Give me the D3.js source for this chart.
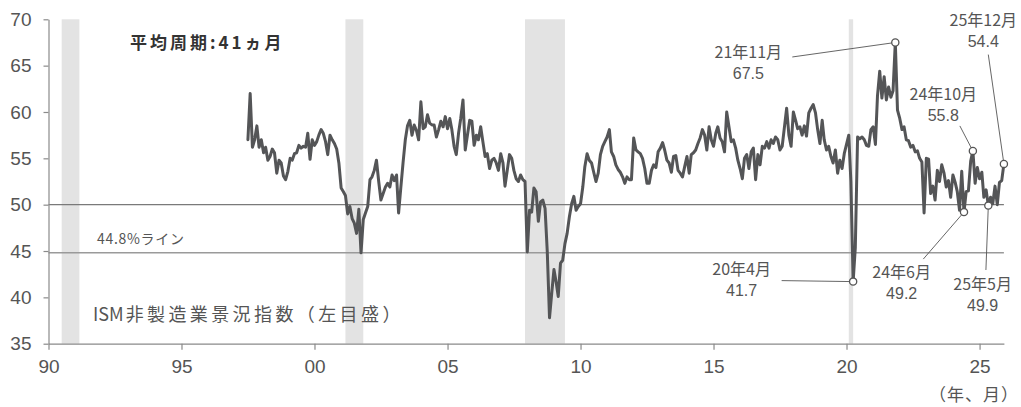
<!DOCTYPE html>
<html lang="ja">
<head>
<meta charset="utf-8">
<script src="https://cdn.jsdelivr.net/npm/d3@7"></script>
<style>
  html, body { margin: 0; padding: 0; background: #fff; }
  svg { display: block; }
</style>
</head>
<body>
<svg id="chart" width="1021" height="407"></svg>
<script>
// ISM non-manufacturing index, monthly, starting July 1997
const firstMonth = "1997-07";
const ismValues = [
  // 1997 (Jul-Dec)
  57.0, 62.0, 56.2, 57.0, 58.5, 56.2,
  // 1998
  57.0, 55.6, 56.2, 54.8, 55.2, 56.0, 55.6, 53.4, 54.8, 54.5, 53.1, 52.7,
  // 1999
  53.6, 55.0, 54.8, 55.5, 55.6, 56.4, 56.1, 56.3, 56.2, 57.7, 54.9, 57.0,
  // 2000
  56.4, 56.8, 57.5, 58.1, 57.7, 56.8, 55.4, 57.5, 57.0, 56.6, 56.0, 54.5,
  // 2001
  51.8, 51.4, 51.0, 49.0, 49.8, 48.5, 48.0, 46.9, 49.5, 44.8, 48.4, 49.1,
  // 2002
  49.8, 52.7, 53.0, 53.7, 54.8, 52.5, 50.5, 51.2, 51.9, 52.3, 51.9, 53.2,
  // 2003
  52.6, 53.2, 49.1, 51.9, 54.5, 57.0, 58.5, 59.1, 57.5, 58.6, 58.0, 57.0,
  // 2004
  61.1, 58.2, 58.4, 59.7, 58.8, 58.6, 58.6, 57.3, 58.1, 59.0, 58.4, 59.5,
  // 2005
  58.2, 59.3, 58.1, 56.3, 55.4, 57.7, 59.3, 61.3, 55.9, 57.5, 59.1, 59.0,
  // 2006
  56.4, 57.5, 57.0, 58.4, 56.8, 55.2, 55.5, 53.9, 54.8, 55.0, 54.5, 53.7,
  // 2007
  55.5, 54.5, 52.0, 53.7, 55.4, 55.0, 53.7, 52.8, 52.5, 53.2, 52.7, 52.5,
  // 2008
  44.9, 49.4, 49.2, 51.8, 51.4, 48.2, 50.3, 50.5, 49.6, 45.0, 37.8, 40.4,
  // 2009
  43.0, 41.6, 40.1, 43.7, 44.0, 45.8, 46.9, 48.7, 50.1, 50.9, 49.4, 49.8,
  // 2010
  50.1, 51.9, 54.1, 55.5, 54.8, 54.5, 53.5, 52.5, 53.4, 55.4, 56.3, 56.8,
  // 2011
  57.3, 58.1, 55.7, 55.2, 54.3, 53.8, 53.5, 53.0, 52.3, 53.0, 52.7, 52.7,
  // 2012
  57.2, 55.9, 55.7, 55.5, 55.0, 53.9, 52.3, 52.3, 53.7, 54.3, 54.0, 55.7,
  // 2013
  56.1, 56.7, 55.9, 54.8, 54.5, 53.5, 55.2, 55.3, 53.7, 53.4, 53.0, 54.1,
  // 2014
  55.2, 53.4, 55.4, 55.6, 55.9, 56.6, 57.2, 58.1, 57.5, 55.9, 58.4, 57.0,
  // 2015
  56.3, 57.7, 58.4, 57.2, 56.8, 55.7, 60.0, 58.4, 56.8, 57.0, 56.1, 54.8,
  // 2016
  53.9, 52.8, 55.0, 55.4, 53.9, 55.7, 56.1, 52.7, 55.4, 54.3, 56.3, 56.1,
  // 2017
  56.8, 56.1, 57.0, 56.6, 57.3, 57.0, 55.9, 56.3, 58.4, 60.4, 57.5, 56.3,
  // 2018
  60.0, 59.1, 58.2, 58.4, 57.5, 58.5, 57.4, 59.9, 60.4, 60.8, 59.9, 58.1,
  // 2019
  56.6, 59.1, 57.0, 55.9, 56.3, 55.2, 54.5, 55.9, 53.4, 54.8, 53.9, 55.5,
  // 2020
  56.5, 57.5, 52.5, 41.7, 45.4, 57.3, 57.1, 57.3, 57.0, 56.4, 56.3, 58.1,
  // 2021
  58.4, 56.5, 61.7, 64.4, 61.5, 63.8, 61.3, 62.7, 61.6, 62.3, 67.5, 60.2,
  // 2022
  59.3, 58.1, 58.4, 57.0, 56.9, 56.2, 56.4, 55.7, 55.8, 55.0, 54.6, 49.1,
  // 2023
  55.0, 54.9, 51.2, 52.0, 50.5, 53.7, 52.5, 54.3, 53.4, 51.9, 52.6, 50.8,
  // 2024
  53.2, 52.4, 51.4, 49.4, 53.6, 49.2, 51.4, 51.5, 54.7, 55.8, 52.3, 54.0,
  // 2025
  52.8, 53.5, 50.8, 51.6, 49.9, 50.8, 50.1, 52.0, 50.0, 52.4, 52.6, 54.4
];

const yTicks = [35, 40, 45, 50, 55, 60, 65, 70];
const xTickYears = [1990, 1995, 2000, 2005, 2010, 2015, 2020, 2025];
const xDomainMonths = ["1990-01", "2025-12"];

// US recessions (start month, end month)
const recessions = [
  ["1990-07", "1991-03"],
  ["2001-03", "2001-11"],
  ["2007-12", "2009-06"],
  ["2020-02", "2020-04"]
];

// horizontal reference levels
const refLevels = [50, 44.8];

// highlighted months with their labels
const calloutMonths = ["2021-11", "2020-04", "2024-10", "2024-06", "2025-05", "2025-12"];
const calloutNames  = ["21年11月", "20年4月", "24年10月", "24年6月", "25年5月", "25年12月"];
const calloutValues = [67.5, 41.7, 55.8, 49.2, 49.9, 54.4];

// ---------- layout ----------
const parseMonth = d3.timeParse("%Y-%m");
const plot = { left: 48.5, right: 1003.9, top: 19.3, bottom: 343.7 };

// label placement for each callout: text centre offset and leader start offset (from the point)
const calloutLayout = {
  "2021-11": { tx: -147, ty: 10, lx: -103, ly: 14.5 },
  "2020-04": { tx: -111.5, ty: -12, lx: -71.5, ly: -1 },
  "2024-10": { tx: -29.6, ty: -57, lx: -13, ly: -25 },
  "2024-06": { tx: -62.3, ty: 60, lx: -40.7, ly: 47 },
  "2025-05": { tx: -5.7, ty: 79, lx: -2.4, ly: 64.4 },
  "2025-12": { tx: -20.6, ty: -143, lx: -15.6, ly: -109.3 }
};

const svg = d3.select("#chart");
const FONT_JP = "'Noto Sans CJK JP', 'Liberation Sans', Arial, sans-serif";
const FONT_NUM = "'Liberation Sans', Arial, 'Noto Sans CJK JP', sans-serif";

const x = d3.scaleTime()
  .domain(xDomainMonths.map(parseMonth))
  .range([plot.left, plot.right]);

const y = d3.scaleLinear()
  .domain([35, 70])
  .range([plot.bottom, plot.top]);

const start = parseMonth(firstMonth);
const series = ismValues.map((v, i) => ({ date: d3.timeMonth.offset(start, i), value: v }));

// recession shading
svg.append("g")
  .selectAll("rect")
  .data(recessions)
  .join("rect")
  .attr("x", d => x(parseMonth(d[0])))
  .attr("width", d => x(parseMonth(d[1])) - x(parseMonth(d[0])))
  .attr("y", y(70))
  .attr("height", y(35) - y(70))
  .attr("fill", "#e3e3e3");

// reference lines
svg.append("g")
  .selectAll("line")
  .data(refLevels)
  .join("line")
  .attr("x1", plot.left)
  .attr("x2", plot.right)
  .attr("y1", d => y(d))
  .attr("y2", d => y(d))
  .attr("stroke", (d, i) => i === 0 ? "#7a7a7a" : "#9a9a9a")
  .attr("stroke-width", (d, i) => i === 0 ? 1.2 : 1.5);

// axes
const yAxis = d3.axisLeft(y).tickValues(yTicks).tickSize(5).tickSizeOuter(0).tickPadding(12);
const gy = svg.append("g").attr("transform", `translate(${plot.left},0)`).call(yAxis);

const xAxis = d3.axisBottom(x)
  .tickValues(xTickYears.map(yr => new Date(yr, 0, 1)))
  .tickFormat(d3.timeFormat("%y"))
  .tickSize(6).tickSizeOuter(0).tickPadding(10);
const gx = svg.append("g").attr("transform", `translate(0,${plot.bottom})`).call(xAxis);

[gx, gy].forEach(g => {
  g.select(".domain").attr("stroke", "#8a8a8a").attr("stroke-width", 1.2);
  g.selectAll(".tick line").attr("stroke", "#8a8a8a").attr("stroke-width", 1.2);
  g.selectAll(".tick text")
    .attr("fill", "#555")
    .style("font-family", FONT_NUM)
    .style("font-size", "19px");
});

// index line
const line = d3.line()
  .x(d => x(d.date))
  .y(d => y(d.value));

svg.append("path")
  .datum(series)
  .attr("d", line)
  .attr("fill", "none")
  .attr("stroke", "#545557")
  .attr("stroke-width", 3)
  .attr("stroke-linejoin", "round")
  .attr("stroke-linecap", "round");

// callouts
const callouts = calloutMonths.map((m, i) => {
  const date = parseMonth(m);
  const px = x(date), py = y(calloutValues[i]);
  const lay = calloutLayout[m];
  return { name: calloutNames[i], value: calloutValues[i], px, py, lay };
});

const cg = svg.append("g");
cg.selectAll("line")
  .data(callouts)
  .join("line")
  .attr("x1", d => d.px + d.lay.lx)
  .attr("y1", d => d.py + d.lay.ly)
  .attr("x2", d => d.px)
  .attr("y2", d => d.py)
  .attr("stroke", "#555")
  .attr("stroke-width", 0.9);

cg.selectAll("circle")
  .data(callouts)
  .join("circle")
  .attr("cx", d => d.px)
  .attr("cy", d => d.py)
  .attr("r", 3.6)
  .attr("fill", "#fff")
  .attr("stroke", "#555")
  .attr("stroke-width", 1.3);

const labels = cg.selectAll("text")
  .data(callouts)
  .join("text")
  .attr("text-anchor", "middle")
  .attr("fill", "#555")
  .style("font-family", FONT_JP)
  .style("font-size", "16px");
labels.append("tspan")
  .attr("x", d => d.px + d.lay.tx)
  .attr("y", d => d.py + d.lay.ty)
  .attr("dy", "0.35em")
  .text(d => d.name);
labels.append("tspan")
  .attr("x", d => d.px + d.lay.tx)
  .attr("y", d => d.py + d.lay.ty + 21)
  .attr("dy", "0.35em")
  .style("font-family", FONT_NUM)
  .text(d => d.value.toFixed(1));

// annotations
svg.append("text")
  .attr("x", 130).attr("y", 43).attr("dy", "0.35em")
  .attr("fill", "#333")
  .style("font-family", FONT_JP)
  .style("font-size", "17px")
  .style("font-weight", "bold")
  .style("letter-spacing", "3px")
  .text("平均周期:41ヵ月");

svg.append("text")
  .attr("x", 97).attr("y", 239.5).attr("dy", "0.35em")
  .attr("fill", "#555")
  .style("font-family", FONT_JP)
  .style("font-size", "14px")
  .style("letter-spacing", "0.7px")
  .text("44.8%ライン");

const seriesTitle = svg.append("text")
  .attr("x", 93).attr("y", 315).attr("dy", "0.35em")
  .attr("fill", "#555")
  .style("font-family", FONT_JP)
  .style("font-size", "18px");
seriesTitle.append("tspan").text("ISM");
seriesTitle.append("tspan")
  .attr("dx", 2)
  .style("letter-spacing", "3.4px")
  .text("非製造業景況指数（左目盛）");

svg.append("text")
  .attr("x", 1019).attr("y", 395).attr("dy", "0.35em")
  .attr("text-anchor", "end")
  .attr("fill", "#555")
  .style("font-family", FONT_JP)
  .style("font-size", "17px")
  .style("letter-spacing", "1px")
  .text("（年、月）");
</script>
</body>
</html>
